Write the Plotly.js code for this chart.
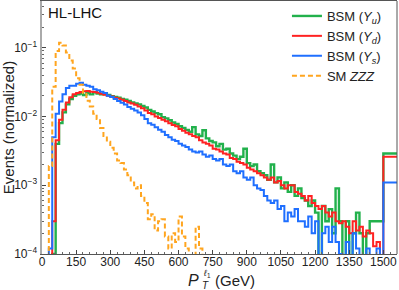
<!DOCTYPE html>
<html>
<head>
<meta charset="utf-8">
<script src="https://cdn.plot.ly/plotly-3.0.1.min.js"></script>
<style>html,body{margin:0;padding:0;background:#fff}#chart{width:399px;height:290px}</style>
</head>
<body>
<div id="chart"></div>
<script>
// 15 GeV bins from 0 to 1500, plus an overflow bin drawn from 1500 to the plot edge
const binWidth = 15;
const nBins = 100;
const overflowEnd = 1560;

const seriesNames = ["BSM (<i>Y<sub>u</sub></i>)", "BSM (<i>Y<sub>d</sub></i>)", "BSM (<i>Y<sub>s</sub></i>)", "SM <i>ZZZ</i>"];

const yu = [0,0,0,0.0001,0.004,0.008,0.0115,0.015,0.018,0.020,
  0.021,0.0215,0.0205,0.022,0.021,0.0225,0.0215,0.021,0.0218,0.0205,
  0.0198,0.0192,0.0188,0.018,0.0175,0.0168,0.016,0.0155,0.015,0.0142,
  0.0135,0.0125,0.0118,0.0112,0.0108,0.0098,0.0094,0.0088,0.0082,0.0078,
  0.0072,0.0068,0.0064,0.0060,0.0070,0.0055,0.0052,0.0063,0.0048,0.0044,
  0.0042,0.0037,0.0040,0.0033,0.0034,0.0029,0.0027,0.0024,0.0026,0.0034,
  0.0021,0.0019,0.0020,0.0016,0.0015,0.0014,0.0012,0.0020,0.0011,0.0013,
  0.0009,0.0011,0.0008,0.0010,0.0007,0.0009,0.00065,0.0006,0.0005,0.0006,
  0.0004,0,0.0005,0.0003,0.00045,0.0002,0.0009,0.0003,0,0.0003,
  0,0.0002,0.0004,0.0002,0,0.0002,0.0003,0.0003,0.0003,0.0003];
const yuOverflow = 0.0029;

const yd = [0,0,0,0.0003,0.0045,0.009,0.0125,0.016,0.019,0.021,
  0.022,0.0228,0.0232,0.0235,0.023,0.0228,0.0222,0.0215,0.0208,0.0200,
  0.0195,0.0188,0.0182,0.0175,0.0168,0.016,0.0155,0.0148,0.0140,0.0132,
  0.0122,0.0112,0.0108,0.0100,0.0095,0.0090,0.0085,0.0080,0.0075,0.0072,
  0.0066,0.0062,0.0058,0.0055,0.0052,0.0050,0.0045,0.0042,0.0040,0.0038,
  0.0034,0.0033,0.0031,0.0029,0.0028,0.0025,0.0024,0.0022,0.0021,0.0020,
  0.0018,0.0017,0.0016,0.0015,0.0014,0.0013,0.0012,0.0013,0.0011,0.00115,
  0.0010,0.0009,0.0010,0.0010,0.0008,0.00075,0.0007,0.0006,0.0007,0.00055,
  0.0005,0.00045,0.0005,0.0004,0.00035,0.0004,0.0003,0.00028,0.0003,0.00025,
  0.0002,0.0003,0.00022,0.00025,0.00018,0.00022,0.0002,0.00013,0.00015,0.00008];
const ydOverflow = 0.0026;

const ys = [0,0,0.00012,0.005,0.011,0.0165,0.021,0.026,0.028,0.028,
  0.030,0.031,0.029,0.028,0.027,0.025,0.024,0.023,0.022,0.020,
  0.0192,0.018,0.0168,0.0158,0.015,0.0138,0.0130,0.0122,0.0114,0.0104,
  0.0092,0.0080,0.0076,0.0070,0.0064,0.0060,0.0054,0.0050,0.0046,0.0044,
  0.0040,0.0038,0.0036,0.0033,0.0031,0.0030,0.0031,0.0028,0.0026,0.0027,
  0.0024,0.0023,0.0024,0.0020,0.0019,0.0020,0.0016,0.0015,0.0016,0.0013,
  0.0012,0.0013,0.0010,0.0009,0.00085,0.0007,0.0006,0.00055,0.0006,0.00045,
  0.0005,0.0003,0.0004,0.00035,0.00045,0.0003,0.0003,0.00025,0.00035,0.0002,
  0.0003,0,0.0002,0.00025,0.00015,0.00025,0.00015,0.0001,0,0.00015,
  0,0.0002,0.00012,0,0,0.00012,0,0,0.00012,0];
const ysOverflow = 0.0011;

const zzz = [0,0,0.0019,0.027,0.09,0.118,0.108,0.085,0.065,0.05,
  0.036,0.029,0.022,0.017,0.014,0.011,0.0092,0.0068,0.0052,0.0043,
  0.0035,0.0029,0.0023,0.0021,0.0017,0.0014,0.0011,0.0009,0.0010,0.0007,
  0.00055,0.00032,0.00038,0.00022,0.0003,0.00032,0.00018,0.00012,0.0002,0.00015,
  0.00035,0.00018,0.00012,0,0,0.00025,0.00012,0,0,0,
  0,0,0,0,0,0,0,0,0,0,
  0,0,0,0,0,0,0,0,0,0,
  0,0,0,0,0,0,0,0,0,0,
  0,0,0,0,0,0,0,0,0,0,
  0,0,0,0,0,0,0,0,0,0];
const zzzOverflow = 0;

const xTickVals = [0,150,300,450,600,750,900,1050,1200,1350,1500];
const yTickVals = [1e-4,1e-3,1e-2,1e-1];
const yTickText = ["10<sup>\u22124</sup>","10<sup>\u22123</sup>","10<sup>\u22122</sup>","10<sup>\u22121</sup>"];

const colors = ["#22b14c", "#ff2222", "#1f6fff", "#ffa51f"];

const edges = [];
for (let i = 0; i <= nBins; i++) edges.push(i * binWidth);
edges.push(overflowEnd);

function stepTrace(vals, ovf, name, color, width, dash) {
  const y = vals.concat([ovf, ovf]).map(v => v > 0 ? v : 1e-7);
  return {
    x: edges, y: y, name: name, type: 'scatter', mode: 'lines',
    line: {shape: 'hv', color: color, width: width, dash: dash || 'solid'},
    hoverinfo: 'skip'
  };
}

const data = [
  stepTrace(yu, yuOverflow, seriesNames[0], colors[0], 2.4),
  stepTrace(yd, ydOverflow, seriesNames[1], colors[1], 2),
  stepTrace(ys, ysOverflow, seriesNames[2], colors[2], 2),
  stepTrace(zzz, zzzOverflow, seriesNames[3], colors[3], 2, '5px,3px')
];

const fam = 'Liberation Sans, Arial, sans-serif';
const txt = '#222';

const layout = {
  width: 399, height: 290,
  margin: {l: 42, r: 2, t: 1, b: 36},
  paper_bgcolor: '#fff', plot_bgcolor: '#fff',
  font: {family: fam, color: txt},
  showlegend: true,
  legend: {x: 0.69, y: 1.0, xanchor: 'left', yanchor: 'top', bgcolor: 'rgba(0,0,0,0)',
    font: {family: fam, size: 13, color: txt}, tracegroupgap: 0, itemwidth: 30},
  xaxis: {
    range: [0, overflowEnd], tickvals: xTickVals, ticks: 'inside', ticklen: 4, tickcolor: '#444',
    showgrid: false, zeroline: false, showline: true, linecolor: '#555', linewidth: 1, mirror: true,
    tickfont: {family: fam, size: 12, color: txt}, ticklabelstandoff: -3,
    minor: {ticks: 'inside', ticklen: 2, dtick: 30, tickcolor: '#666'}
  },
  yaxis: {
    type: 'log', range: [-4, -0.32], tickvals: yTickVals, ticktext: yTickText,
    ticks: 'inside', ticklen: 4, tickcolor: '#444',
    showgrid: false, zeroline: false, showline: true, linecolor: '#aaaaaa', linewidth: 2.5,
    tickfont: {family: fam, size: 12, color: txt},
    minor: {ticks: 'inside', ticklen: 2, dtick: 'D1', tickcolor: '#666'},
    title: {text: 'Events (normalized)', font: {family: fam, size: 15, color: txt}, standoff: 3}
  },
  shapes: [{type: 'line', xref: 'paper', yref: 'paper', x0: 1, x1: 1, y0: 0, y1: 1, line: {color: '#555', width: 1}}],
  annotations: [
    {text: 'HL-LHC', xref: 'paper', yref: 'paper', x: 0.012, y: 0.995, xanchor: 'left', yanchor: 'top',
      showarrow: false, font: {family: fam, size: 15, color: '#111'}},
    // x-axis title: P with stacked sub/superscript, then (GeV)
    {text: '<i>P</i>', xref: 'paper', yref: 'paper', x: 0.447, y: 0, xanchor: 'right', yanchor: 'middle',
      yshift: -26, showarrow: false, font: {family: fam, size: 16, color: txt}},
    {text: '<i>T</i>', xref: 'paper', yref: 'paper', x: 0.447, y: 0, xanchor: 'left', yanchor: 'middle',
      yshift: -31, xshift: -1, showarrow: false, font: {family: fam, size: 10, color: txt}},
    {text: '<i>\u2113</i><sub>1</sub>', xref: 'paper', yref: 'paper', x: 0.447, y: 0, xanchor: 'left', yanchor: 'middle',
      yshift: -19, showarrow: false, font: {family: fam, size: 9, color: txt}},
    {text: '(GeV)', xref: 'paper', yref: 'paper', x: 0.483, y: 0, xanchor: 'left', yanchor: 'middle',
      yshift: -26, showarrow: false, font: {family: fam, size: 15, color: txt}}
  ]
};

Plotly.newPlot('chart', data, layout, {staticPlot: true, displayModeBar: false});
</script>
</body>
</html>
